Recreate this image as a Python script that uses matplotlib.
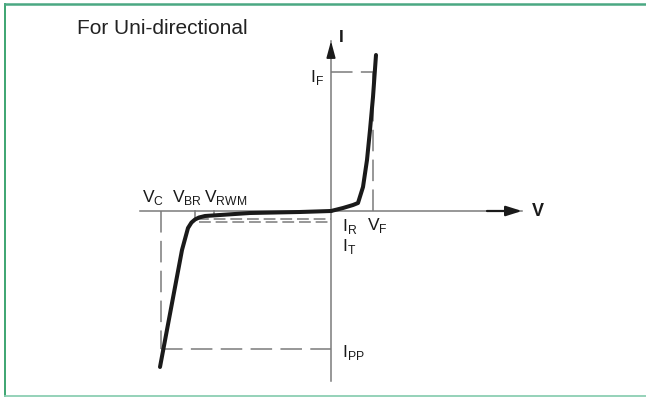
import matplotlib.pyplot as plt
from matplotlib.lines import Line2D
from matplotlib.patches import FancyArrowPatch

plt.rcParams['font.family'] = ['Liberation Sans', 'DejaVu Sans']
plt.rcParams['mathtext.fontset'] = 'custom'
plt.rcParams['mathtext.rm'] = 'Liberation Sans'
plt.rcParams['lines.scale_dashes'] = False

# ── 数据（任意单位：V 向右，I 向上）──────────────────────
fwd_v = [0, 1.2, 2.2, 2.7, 3.2, 3.6, 3.9, 4.2, 4.5]
fwd_i = [0, 0.3, 0.6, 0.8, 2.4, 5.1, 8.1, 11.4, 15.6]
rev_v = [0, -3.1, -8.1, -11.1, -12.6, -13.2, -13.6, -13.95, -14.3, -14.9, -17.1]
rev_i = [0, -0.1, -0.2, -0.4, -0.5, -0.65, -0.85, -1.15, -1.7, -3.9, -15.6]

V_F, I_F = 4.2, 13.9
V_C, I_PP = -17.0, -13.8
V_BR, V_RWM = -13.6, -11.7
I_R, I_T = -0.75, -1.1

AX_V = (-19.1, 19.1)
AX_I = (-17.0, 17.0)

GRAY, BLACK = '#7a7a7a', '#1a1a1a'

fig = plt.figure(figsize=(6.46, 3.97), dpi=100)
fig.patch.set_facecolor('white')
ax = fig.add_axes([0, 0, 1, 1])
ax.set_xlim(-33.1, 31.5)
ax.set_ylim(-18.6, 21.1)
ax.axis('off')

# 边框（左、上、下）
fig.add_artist(Line2D([0.0077, 0.0077], [0.0025, 0.99], color='#2e9e66', lw=1.3,
                      transform=fig.transFigure))
fig.add_artist(Line2D([0.0077, 1.0], [0.99, 0.99], color='#4aa883', lw=1.8,
                      transform=fig.transFigure))
fig.add_artist(Line2D([0.0077, 1.0], [0.0025, 0.0025], color='#8ccfb3', lw=1.3,
                      transform=fig.transFigure))

# 坐标轴
ax.plot(AX_V, [0, 0], color=GRAY, lw=1.1, zorder=2)
ax.plot([0, 0], AX_I, color=GRAY, lw=1.1, zorder=2)
ax.add_patch(FancyArrowPatch((AX_V[1] - 3.5, 0), (AX_V[1], 0),
                             arrowstyle='-|>,head_length=0.95,head_width=0.3',
                             mutation_scale=10, color=BLACK, lw=1.6,
                             shrinkA=0, shrinkB=0, zorder=3))
ax.add_patch(FancyArrowPatch((0, AX_I[1] - 1.3), (0, AX_I[1]),
                             arrowstyle='-|>,head_length=1.0,head_width=0.27',
                             mutation_scale=10, color=BLACK, lw=1.2,
                             shrinkA=0, shrinkB=0, zorder=3))

# 虚线
long_dash = (0, (15.5, 6))
short_dash = (0, (8.5, 3.5))
ax.plot([0, V_F], [I_F, I_F], color=GRAY, lw=1.1, ls=long_dash)
ax.plot([V_F, V_F], [0, I_F], color=GRAY, lw=1.1, ls=long_dash)
ax.plot([V_C, 0], [I_PP, I_PP], color=GRAY, lw=1.1, ls=long_dash)
ax.plot([V_C, V_C], [0, I_PP], color=GRAY, lw=1.1, ls=long_dash)
ax.plot([V_BR + 0.2, 0], [I_R, I_R], color=GRAY, lw=1.1, ls=short_dash)
ax.plot([V_BR + 0.4, 0], [I_T, I_T], color=GRAY, lw=1.1, ls=short_dash)
ax.plot([V_BR, V_BR], [0, I_R], color=GRAY, lw=1.1)
ax.plot([V_RWM, V_RWM], [0, -0.4], color=GRAY, lw=1.1)

# 特性曲线
ax.plot(fwd_v, fwd_i, color=BLACK, lw=2.9, solid_capstyle='round',
        solid_joinstyle='round', zorder=4)
ax.plot(rev_v, rev_i, color=BLACK, lw=2.9, solid_capstyle='round',
        solid_joinstyle='round', zorder=4)

# 文字
ax.text(-25.4, 18.3, 'For Uni-directional', fontsize=15,
        color='#222222', ha='left', va='center')
ax.text(0.8, 17.4, 'I', fontsize=12.5, fontweight='bold', color=BLACK,
        ha='left', va='center')
ax.text(20.1, 0, 'V', fontsize=13, fontweight='bold', color=BLACK,
        ha='left', va='center')

lab = dict(fontsize=12.5, color=BLACK, ha='left', va='baseline')
ax.text(-2.1, 12.9, r'I$_\mathregular{F}$', **lab)
ax.text(-18.9, 0.9, r'V$_\mathregular{C}$', **lab)
ax.text(-15.9, 0.9, r'V$_\mathregular{BR}$', **lab)
ax.text(-12.7, 0.9, r'V$_\mathregular{RWM}$', **lab)
ax.text(3.6, -1.9, r'V$_\mathregular{F}$', **lab)
ax.text(1.1, -2.0, r'I$_\mathregular{R}$', **lab)
ax.text(1.1, -4.0, r'I$_\mathregular{T}$', **lab)
ax.text(1.1, -14.6, r'I$_\mathregular{PP}$', **lab)

fig.savefig('out.png', dpi=100, facecolor='white')
